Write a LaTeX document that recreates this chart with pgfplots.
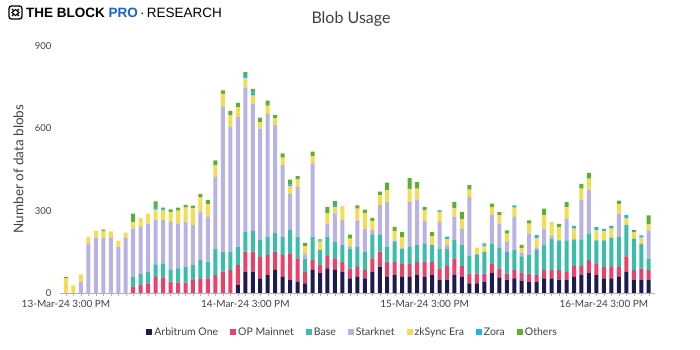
\documentclass[border=0pt]{standalone}
\usepackage{pgfplots}
\pgfplotsset{compat=1.18}
\usepackage{pgfplotstable}
\usepackage{fontspec}
\setmainfont{Lato}
\newfontfamily\logofont{Liberation Sans}
\definecolor{carb}{HTML}{1E1B50}
\definecolor{cop}{HTML}{E8426A}
\definecolor{cbase}{HTML}{3CBCAA}
\definecolor{cstark}{HTML}{B9B3E3}
\definecolor{czk}{HTML}{F4DC54}
\definecolor{czora}{HTML}{25B5E5}
\definecolor{coth}{HTML}{5BB02E}
\definecolor{cpro}{HTML}{1A5FD6}
\definecolor{ctxt}{HTML}{404040}
\pgfplotstableread{
idx arb op base stark zk zora oth
0 0 0 0 0 53 0 6
1 0 0 0 0 28 0 0
2 0 0 0 41 27 0 0
3 0 0 0 181 24 0 0
4 0 0 0 202 24 0 0
5 0 0 0 201 25 0 5
6 0 0 0 201 24 0 0
7 0 0 0 167 24 0 0
8 0 0 0 201 19 0 0
9 0 23 36 176 24 0 30
10 0 29 42 170 33 0 0
11 0 35 42 176 36 0 0
12 0 59 45 162 38 10 20
13 0 57 51 158 34 5 6
14 0 41 45 173 36 0 10
15 0 38 52 164 46 0 11
16 0 38 58 164 51 0 10
17 0 47 55 145 61 0 10
18 0 53 67 176 52 0 12
19 0 53 61 164 46 0 15
20 0 65 97 261 42 0 18
21 0 78 73 527 48 0 12
22 0 84 67 455 42 0 16
23 29 73 67 473 34 0 17
24 78 73 73 525 33 16 8
25 78 73 75 463 30 12 12
26 53 79 61 406 24 0 16
27 65 73 67 448 30 0 18
28 84 67 67 394 24 0 12
29 59 79 67 261 27 0 16
30 47 97 85 133 27 7 17
31 41 85 79 182 27 0 12
32 35 42 48 18 27 0 12
33 84 36 85 267 27 0 16
34 72 30 55 0 30 4 4
35 90 45 70 46 39 0 24
36 84 42 61 103 22 8 15
37 78 36 61 91 51 0 0
38 53 36 73 8 28 0 15
39 59 36 73 97 42 0 12
40 53 30 67 85 57 0 12
41 78 48 88 15 34 0 11
42 96 55 61 109 36 0 12
43 59 55 55 164 42 0 27
44 65 48 73 6 34 0 15
45 59 46 57 0 42 0 18
46 59 46 65 161 48 0 40
47 65 48 61 166 40 0 24
48 59 55 67 81 40 0 12
49 65 48 61 0 33 0 16
50 47 42 73 97 36 6 0
51 47 51 64 12 21 10 0
52 65 61 67 85 30 0 24
53 59 39 76 61 33 0 28
54 35 36 63 216 27 0 16
55 35 36 70 0 24 0 0
56 41 30 79 0 21 5 5
57 72 34 75 103 30 0 12
58 57 33 76 87 30 0 12
59 47 24 79 36 30 0 12
60 53 30 73 121 34 8 0
61 45 27 61 12 18 0 12
62 41 30 67 79 36 0 12
63 41 24 91 10 33 12 0
64 53 30 91 61 48 0 24
65 53 30 115 12 48 0 0
66 47 36 109 0 48 0 12
67 47 30 115 79 42 0 18
68 59 39 97 0 40 10 0
69 65 33 97 143 42 0 18
70 72 48 97 160 40 0 21
71 65 40 87 0 36 12 0
72 53 42 97 0 34 8 0
73 53 42 107 0 33 5 5
74 59 36 109 85 36 0 12
75 78 55 115 0 24 12 0
76 47 36 115 0 24 0 8
77 47 42 91 0 22 8 0
78 47 36 42 103 22 0 33
}\blobdata
\begin{document}
\begin{tikzpicture}[x=1pt,y=1pt]
\path[use as bounding box] (0,0) rectangle (700,350);
% logo
\draw[line width=1.3pt, rounded corners=2.5pt] (9,331) rectangle (22,344);
\draw[line width=1.1pt] (12,334) -- (19,341) (12,341) -- (19,334);
\draw[line width=1.1pt, fill=white] (15.5,334.5) -- (19,337.5) -- (15.5,340.5) -- (12,337.5) -- cycle;
\node[anchor=west, inner sep=0pt] at (26,337.5) {\logofont\fontsize{13.5}{15}\selectfont\textbf{THE BLOCK \textcolor{cpro}{PRO}}\,\textperiodcentered\,RESEARCH};
% title
\node[font=\fontsize{16}{18}\selectfont, text=ctxt] at (351,331) {Blob Usage};
% y label
\node[rotate=90, font=\fontsize{13.5}{15}\selectfont, text=ctxt] at (18.5,181) {Number of data blobs};
\begin{axis}[
  at={(60pt,57pt)}, anchor=south west,
  scale only axis, width=594.7pt, height=247pt,
  ybar stacked, bar width=4pt,
  xmin=-0.8, xmax=78.8, ymin=0, ymax=900,
  axis x line*=bottom, axis y line*=left,
  y axis line style={draw=none},
  x axis line style={draw=black!30, line width=0.6pt},
  xtick={0,24,48,72},
  xticklabels={13-Mar-24 3:00 PM,14-Mar-24 3:00 PM,15-Mar-24 3:00 PM,16-Mar-24 3:00 PM},
  minor xtick={0,...,78},
  tick align=outside,
  major tick length=3pt, minor tick length=3pt,
  x tick style={draw=black!30, line width=0.4pt},
  ytick={0,300,600,900},
  y tick style={draw=none},
  /pgf/number format/assume math mode=true,
  tick label style={font=\fontsize{9.5}{11}\selectfont, text=ctxt},
  x tick label style={font=\fontsize{10}{12}\selectfont, yshift=-1pt},
  yticklabel style={xshift=-2pt},
  legend columns=7,
  legend style={at={(rel axis cs:0.492,-0.158)}, anchor=center, draw=none, fill=none,
    font=\fontsize{10.5}{12}\selectfont, text=ctxt,
    /tikz/every even column/.append style={column sep=10pt}},
  legend image code/.code={\fill[#1] (0pt,-2.8pt) rectangle (6pt,3.2pt);},
  legend cell align=left,
]
\addplot[fill=carb, draw=none] table[x=idx,y=arb] {\blobdata};
\addlegendentry{Arbitrum One}
\addplot[fill=cop, draw=none] table[x=idx,y=op] {\blobdata};
\addlegendentry{OP Mainnet}
\addplot[fill=cbase, draw=none] table[x=idx,y=base] {\blobdata};
\addlegendentry{Base}
\addplot[fill=cstark, draw=none] table[x=idx,y=stark] {\blobdata};
\addlegendentry{Starknet}
\addplot[fill=czk, draw=none] table[x=idx,y=zk] {\blobdata};
\addlegendentry{zkSync Era}
\addplot[fill=czora, draw=none] table[x=idx,y=zora] {\blobdata};
\addlegendentry{Zora}
\addplot[fill=coth, draw=none] table[x=idx,y=oth] {\blobdata};
\addlegendentry{Others}
\end{axis}
\end{tikzpicture}
\end{document}
